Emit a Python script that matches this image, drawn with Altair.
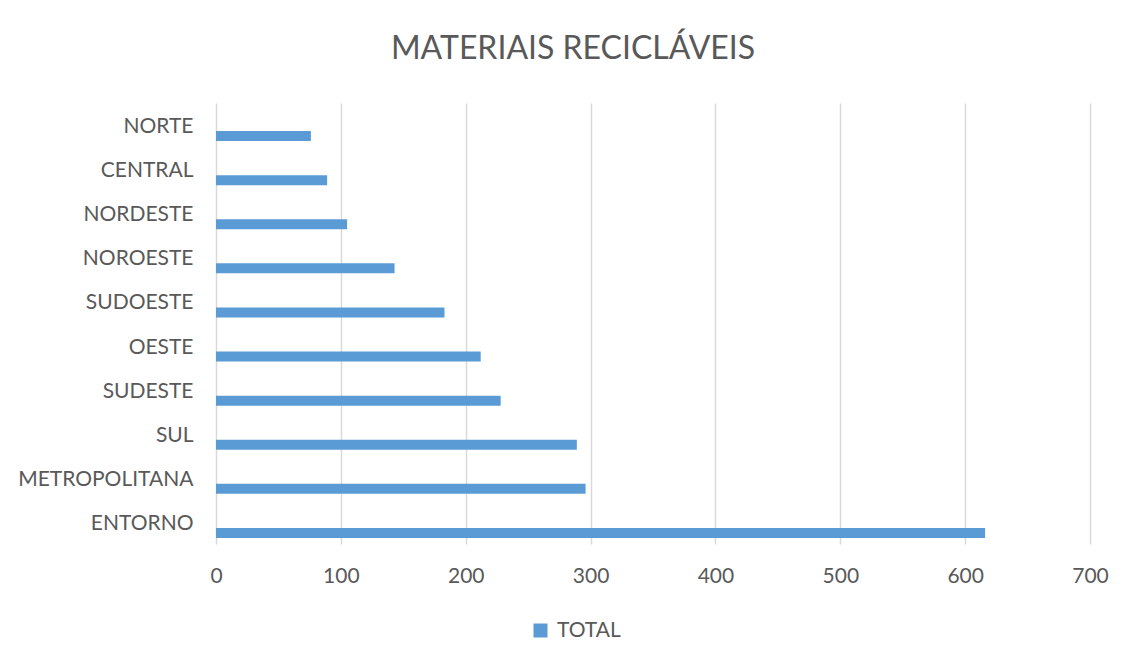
import altair as alt
import pandas as pd

regioes = ["NORTE", "CENTRAL", "NORDESTE", "NOROESTE", "SUDOESTE", "OESTE",
           "SUDESTE", "SUL", "METROPOLITANA", "ENTORNO"]
totais = [76, 89, 105, 143, 183, 212, 228, 289, 296, 616]
serie = ["TOTAL"] * len(regioes)
ticks_x = [0, 100, 200, 300, 400, 500, 600, 700]

df = pd.DataFrame({"regiao": regioes, "total": totais, "serie": serie})

FONT = "Lato"
GRAY_TXT = "#595959"
GRID = "#d9d9d9"

chart = alt.Chart(df).mark_bar(size=10, yOffset=11, color="#5B9BD5").encode(
    x=alt.X("total:Q",
            scale=alt.Scale(domain=[0, 700], nice=False),
            axis=alt.Axis(values=ticks_x, title=None, domain=False, ticks=False,
                          grid=True, gridColor=GRID, gridWidth=1.5,
                          labelFlush=False,
                          labelFont=FONT, labelFontSize=21, labelColor=GRAY_TXT,
                          labelPadding=21)),
    y=alt.Y("regiao:N", sort=regioes,
            scale=alt.Scale(paddingInner=0, paddingOuter=0),
            axis=alt.Axis(title=None, ticks=False, domain=False, grid=False,
                          labelFont=FONT, labelFontSize=21, labelColor=GRAY_TXT,
                          labelPadding=23, labelOffset=2)),
    color=alt.Color("serie:N",
                    scale=alt.Scale(domain=["TOTAL"], range=["#5B9BD5"]),
                    legend=alt.Legend(title=None, orient="none", legendX=314,
                                      legendY=517, symbolType="square",
                                      symbolSize=196, symbolStrokeWidth=0,
                                      labelFont=FONT, labelFontSize=21,
                                      labelColor=GRAY_TXT, labelOffset=6)),
).properties(
    width=874,
    height=441,
    title=alt.TitleParams("MATERIAIS RECICLÁVEIS", font=FONT, fontSize=32,
                          fontWeight=400, color=GRAY_TXT, anchor="middle",
                          dx=-80, offset=37),
    autosize=alt.AutoSizeParams(type="none"),
    padding={"left": 208, "top": 95, "right": 34, "bottom": 100},
    background="white",
).configure_view(stroke=None)

chart.save("out.html", embed_options={"renderer": "svg", "actions": False})
